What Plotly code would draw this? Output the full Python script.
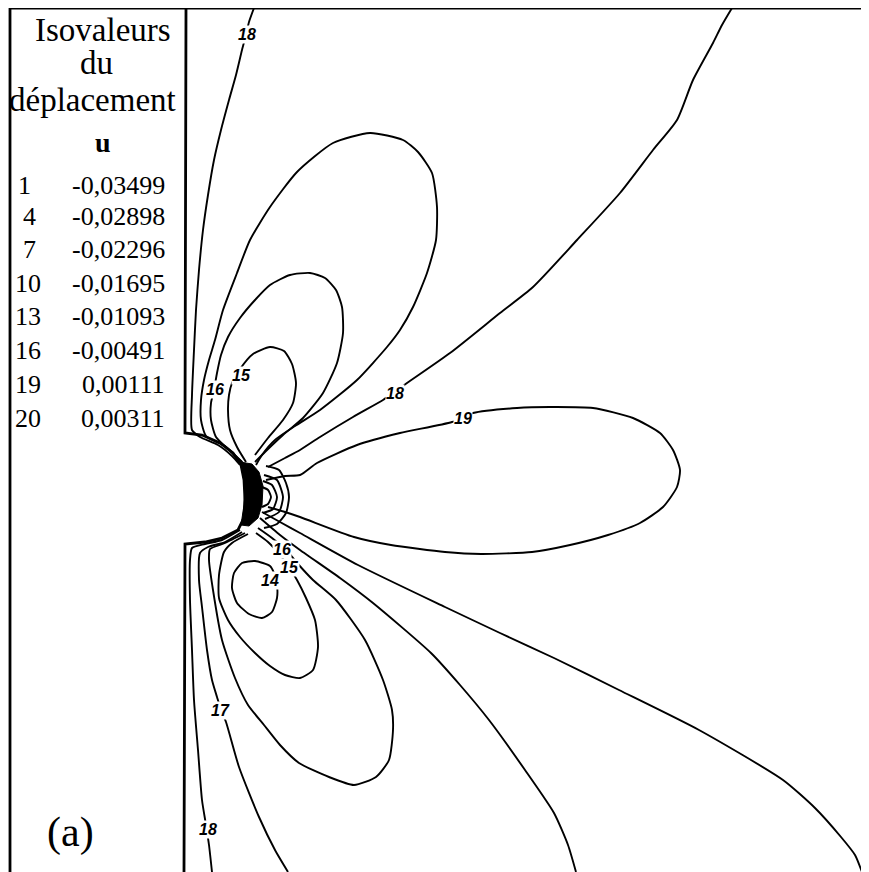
import plotly.graph_objects as go

# ---------------- legend table ----------------
legend_title = ["Isovaleurs", "du", "déplacement"]
legend_var = "u"
iso_numbers = ["1", "4", "7", "10", "13", "16", "19", "20"]
iso_values = ["-0,03499", "-0,02898", "-0,02296", "-0,01695",
              "-0,01093", "-0,00491", "0,00111", "0,00311"]
panel_tag = "(a)"

# ---------------- geometry of the domain (image-unit coordinates) ----------------
frame_top = [(10, 8), (869, 8)]
frame_left = [(10, 8), (10, 872)]
edge_upper = [(186, 8), (185, 433), (202, 435), (220, 443), (233, 453), (241, 465),
              (244, 480), (245, 500), (244, 518), (238, 530), (222, 538), (205, 542),
              (185, 544), (184, 872)]
tip_blob = [(240, 462), (252, 464), (259, 472), (263, 486), (262, 505), (258, 518),
            (249, 526), (241, 525), (244, 505), (245, 482), (240, 462)]

# ---------------- iso-lines ----------------
c18_top = [(254, 8), (249, 22), (246, 35), (242, 50), (236, 75), (229, 100), (221, 130),
           (214, 160), (208, 195), (203, 230), (199, 270), (196, 310), (194, 350),
           (192, 395), (192, 430), (200, 437), (218, 445), (232, 456), (240, 465)]
c17_up = [(242, 462), (225, 446), (206, 436), (201, 420), (201, 400), (204, 380), (209, 360),
          (215, 340), (223, 310), (237, 273), (250, 240), (270, 207), (297, 172), (333, 143),
          (370, 133), (403, 140), (418, 152), (432, 173), (437, 207), (436, 240), (427, 273),
          (413, 307), (400, 330), (387, 347), (357, 380), (320, 410), (295, 426), (275, 440),
          (262, 455), (256, 465)]
c16_up = [(243, 463), (228, 449), (216, 437), (211, 420), (211, 403), (214, 390), (217, 373),
          (221, 355), (228, 337), (240, 318), (255, 300), (270, 285), (290, 275), (310, 273),
          (325, 278), (336, 290), (342, 307), (343, 333), (337, 363), (323, 393), (303, 418),
          (283, 435), (265, 452), (255, 462)]
c15_up = [(246, 462), (237, 447), (230, 430), (228, 410), (229, 395), (232, 383), (240, 369),
          (253, 354), (270, 347), (284, 351), (292, 364), (296, 383), (293, 403), (283, 420),
          (268, 438), (255, 455)]
c18_diag = [(732, 8), (722, 25), (713, 43), (693, 80), (677, 120), (653, 150), (620, 193),
            (577, 240), (533, 287), (500, 313), (450, 353), (407, 383), (393, 393), (383, 400),
            (353, 417), (320, 437), (300, 450), (285, 458), (268, 467)]
c19 = [(266, 480), (285, 476), (300, 475), (317, 463), (357, 445), (400, 433), (452, 422),
       (473, 413), (517, 408), (550, 407), (593, 408), (633, 418), (660, 433), (673, 450),
       (680, 470), (677, 487), (663, 507), (640, 523), (608, 535), (570, 545), (532, 552),
       (481, 554), (445, 552), (391, 545), (354, 537), (300, 517), (285, 512), (268, 507)]
c18_low = [(240, 530), (222, 540), (205, 544), (192, 548), (190, 560), (190, 600), (192, 650),
           (194, 700), (198, 750), (202, 800), (206, 825), (209, 845), (212, 872)]
c17_low = [(242, 532), (225, 542), (208, 547), (200, 553), (199, 580), (202, 607), (207, 650),
           (212, 680), (217, 697), (221, 710), (226, 722), (239, 767), (259, 817), (275, 850),
           (288, 872)]
c16_low = [(245, 533), (225, 543), (210, 549), (209, 560), (213, 590), (222, 640), (235, 678),
           (248, 705), (264, 725), (280, 745), (299, 763), (329, 777), (354, 785), (376, 777),
           (389, 760), (393, 730), (392, 710), (383, 680), (365, 640), (336, 600), (313, 580),
           (298, 564), (287, 551), (272, 538), (258, 528)]
c15_low = [(248, 534), (232, 543), (224, 552), (219, 575), (219, 598), (228, 620), (240, 637),
           (255, 653), (270, 666), (285, 675), (300, 678), (313, 670), (318, 647), (315, 620),
           (306, 598), (297, 580), (289, 567), (280, 555), (268, 542), (256, 533)]
c14_low = [(270, 566), (255, 561), (242, 563), (234, 573), (232, 588), (237, 603), (249, 614),
           (262, 618), (272, 612), (277, 598), (277, 585), (274, 573), (270, 566)]
c_p = [(262, 512), (280, 522), (300, 533), (358, 565), (445, 607), (500, 633), (554, 658),
       (619, 690), (699, 730), (783, 780), (815, 808), (841, 837), (855, 855), (862, 872)]
c_q = [(260, 518), (280, 535), (300, 550), (340, 578), (373, 603), (431, 653), (460, 685),
       (489, 720), (525, 770), (554, 813), (568, 845), (576, 872)]
tip_a = [(262, 487), (268, 490), (271, 497), (268, 504), (262, 507)]
tip_b = [(263, 481), (272, 485), (277, 497), (273, 509), (263, 513)]
tip_c = [(264, 475), (277, 480), (283, 497), (279, 512), (265, 519)]
tip_d = [(266, 466), (279, 470), (286, 483), (289, 497), (286, 513), (277, 524), (264, 528)]

iso_lines = [c18_top, c17_up, c16_up, c15_up, c18_diag, c19, c18_low, c17_low,
             c16_low, c15_low, c14_low, c_p, c_q, tip_a, tip_b, tip_c, tip_d]

# contour labels: text, x, y
iso_labels = [("18", 247, 34), ("16", 215, 389), ("15", 241, 375), ("18", 395, 393),
              ("19", 463, 418), ("16", 282, 549), ("15", 289, 567), ("14", 270, 580),
              ("17", 220, 710), ("18", 208, 829)]

# the page shows the figure 8 px from the window's top-left corner
page_offset = 8

fig = go.Figure()


def xs(pts):
    return [p[0] for p in pts]


def ys(pts):
    return [p[1] for p in pts]


for pts in iso_lines:
    fig.add_trace(go.Scatter(x=xs(pts), y=ys(pts), mode="lines",
                             line=dict(color="black", width=1.9, shape="spline", smoothing=0.6),
                             hoverinfo="skip", showlegend=False))

fig.add_trace(go.Scatter(x=xs(tip_blob), y=ys(tip_blob), mode="lines", fill="toself",
                         fillcolor="black", line=dict(color="black", width=1),
                         hoverinfo="skip", showlegend=False))

for pts in (frame_top, frame_left, edge_upper):
    fig.add_trace(go.Scatter(x=xs(pts), y=ys(pts), mode="lines",
                             line=dict(color="black", width=2.8),
                             hoverinfo="skip", showlegend=False))

annotations = []
serif = "Liberation Serif"
title_y = [30, 63, 100]
title_x = [103, 96, 92]
for t, tx, ty in zip(legend_title, title_x, title_y):
    annotations.append(dict(x=tx, y=ty, text=t, showarrow=False, xanchor="center",
                            yanchor="middle", font=dict(family=serif, size=33, color="black")))
annotations.append(dict(x=103, y=142, text="<b>" + legend_var + "</b>", showarrow=False,
                        xanchor="center", yanchor="middle",
                        font=dict(family=serif, size=28, color="black")))
row_y = [185, 216, 249, 283, 316, 350, 384, 418]
row_x = [24, 29, 29, 28, 28, 28, 28, 28]
for n, v, rx, ry in zip(iso_numbers, iso_values, row_x, row_y):
    annotations.append(dict(x=rx, y=ry, text=n, showarrow=False, xanchor="center",
                            yanchor="middle", font=dict(family=serif, size=26, color="black")))
    annotations.append(dict(x=167, y=ry, text=v, showarrow=False, xanchor="right",
                            yanchor="middle", font=dict(family=serif, size=26, color="black")))
annotations.append(dict(x=70, y=832, text=panel_tag, showarrow=False, xanchor="center",
                        yanchor="middle", font=dict(family=serif, size=42, color="black")))
for t, lx, ly in iso_labels:
    annotations.append(dict(x=lx, y=ly, text="<b>" + t + "</b>", showarrow=False,
                            xanchor="center", yanchor="middle", bgcolor="white", borderpad=0,
                            font=dict(family="Liberation Sans", size=16, color="black",
                                      style="italic")))

fig.update_layout(
    width=869 - page_offset, height=872 - page_offset,
    margin=dict(l=0, r=0, t=0, b=0),
    paper_bgcolor="white", plot_bgcolor="white",
    xaxis=dict(range=[page_offset, 869], visible=False, fixedrange=True),
    yaxis=dict(range=[872, page_offset], visible=False, fixedrange=True),
    annotations=annotations,
    showlegend=False,
)

fig.write_html("out.html")
